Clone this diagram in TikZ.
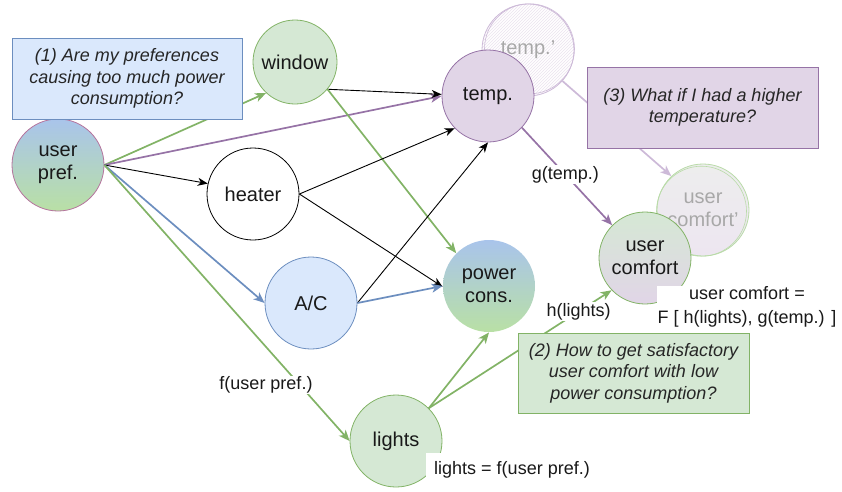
\documentclass[tikz,border=0pt]{standalone}
\usepackage{fontspec}
\setmainfont{Liberation Sans}
\usetikzlibrary{arrows.meta,patterns}
\definecolor{gfill}{HTML}{D5E8D4}
\definecolor{gline}{HTML}{82B366}
\definecolor{bfill}{HTML}{DAE8FC}
\definecolor{bline}{HTML}{6C8EBF}
\definecolor{pfill}{HTML}{E1D5E7}
\definecolor{pline}{HTML}{9673A6}
\definecolor{gradtop}{HTML}{A9C4EB}
\definecolor{gradbot}{HTML}{B9E0A5}
\definecolor{upline}{HTML}{B5739D}
\definecolor{ghostp}{HTML}{CDBAD8}
\definecolor{ghostg}{HTML}{B9DBA8}
\definecolor{ghosttxt}{HTML}{A8A8A8}
\tikzset{
  circ/.style={circle, minimum size=92pt, inner sep=0pt, align=center,
    font=\fontsize{20}{23}\selectfont, line width=0.8pt, text=black!90},
  gnode/.style={circ, draw=gline, fill=gfill},
  bnode/.style={circ, draw=bline, fill=bfill},
  pnode/.style={circ, draw=pline, fill=pfill},
  knode/.style={circ, draw=black, fill=white},
  gradnode/.style={circ, top color=gradtop, bottom color=gradbot},
  qbox/.style={rectangle, align=center, inner sep=0pt, line width=0.8pt,
    font=\fontsize{18}{21.5}\selectfont\itshape, text=black!85},
  lbl/.style={fill=white, inner sep=1pt, font=\fontsize{18}{24}\selectfont, text=black!90},
  tip/.style={-{Stealth[length=11pt,width=9pt,inset=3pt]}},
  garr/.style={tip, draw=gline, line width=1.7pt},
  barr/.style={tip, draw=bline, line width=1.7pt},
  parr/.style={tip, draw=pline, line width=1.7pt},
  karr/.style={-{Stealth[length=10pt,width=8pt,inset=3pt]}, draw=black, line width=0.9pt},
  ghostarr/.style={tip, draw=ghostp, line width=1.7pt},
}
\begin{document}
\begin{tikzpicture}[x=1pt,y=-1pt]
\useasboundingbox (0,0) rectangle (842,491);

% ghost nodes
\node[circ, preaction={fill=white}, pattern=north east lines, pattern color=ghostp!40,
      text=ghosttxt] (tempg) at (528,50) {temp.'};
\draw[ghostp, line width=0.8pt] (tempg.center) circle[radius=46pt];
\draw[ghostp, line width=0.6pt] ([shift={(1.5,-1.2)}]tempg.center) circle[radius=45pt];
\node[circ, top color=black!7, bottom color=pfill!60, text=ghosttxt] (ucg) at (703,210) {user\\comfort'};
\draw[ghostg, line width=0.8pt] (ucg.center) circle[radius=46pt];
\draw[ghostg, line width=0.6pt] ([shift={(-1.5,1.2)}]ucg.center) circle[radius=45pt];

% main nodes
\node[gradnode, draw=upline] (up) at (58,165) {user\\pref.};
\node[gnode, minimum size=84pt] (win) at (295,62) {window};
\node[knode] (heat) at (253,194) {heater};
\node[bnode] (ac) at (311,303) {A/C};
\node[gnode] (lights) at (396,441) {lights};
\node[gradnode] (pow) at (489,286) {power\\cons.};
\node[pnode] (temp) at (488,96) {temp.};
\node[circ, draw=gline, top color=gfill, bottom color=pfill] (uc) at (645,258) {user\\comfort};

% edges
\draw[garr] (up.east) -- (win.-133);
\draw[parr] (up.east) -- (temp.west);
\draw[karr] (up.east) -- (heat.167);
\draw[barr] (up.east) -- (ac.west);
\draw[garr] (up.east) -- (lights.west);
\draw[karr] (win.-40) -- (temp.178);
\draw[garr] (win.-40) -- (pow.135);
\draw[karr] (heat.east) -- (temp.-136);
\draw[karr] (heat.east) -- (pow.181);
\draw[karr] (ac.east) -- (temp.south);
\draw[barr] (ac.east) -- (pow.180);
\draw[garr] (lights.45) -- (pow.south);
\draw[garr] (lights.45) -- node[lbl, pos=0.82] {h(lights)} (uc.-136);
\draw[parr] (temp.-43) -- node[lbl, pos=0.48] {g(temp.)} (uc.135);
\draw[ghostarr] (tempg.-42) -- (ucg.133);

% free labels
\node[lbl] (flbl) at (266,385) {f(user pref.)};
\node[lbl, minimum width=180pt, minimum height=42pt, align=center, inner sep=0pt] (ucdef) at (747,307)
  {user comfort =\\F [ h(lights), g(temp.) ]};
\node[lbl, minimum width=172pt, minimum height=34pt, inner sep=0pt] (ldef) at (512,470) {lights = f(user pref.)};

% question boxes
\node[qbox, draw=bline, fill=bfill, minimum width=230pt, minimum height=81pt] (q1) at (127,78.5)
  {(1) Are my preferences\\causing too much power\\consumption?};
\node[qbox, draw=pline, fill=pfill, minimum width=231pt, minimum height=81pt] (q3) at (702.5,107.5)
  {(3) What if I had a higher\\temperature?};
\node[qbox, draw=gline, fill=gfill, minimum width=231pt, minimum height=80pt] (q2) at (633.5,373)
  {(2) How to get satisfactory\\user comfort with low\\power consumption?};
\end{tikzpicture}
\end{document}
